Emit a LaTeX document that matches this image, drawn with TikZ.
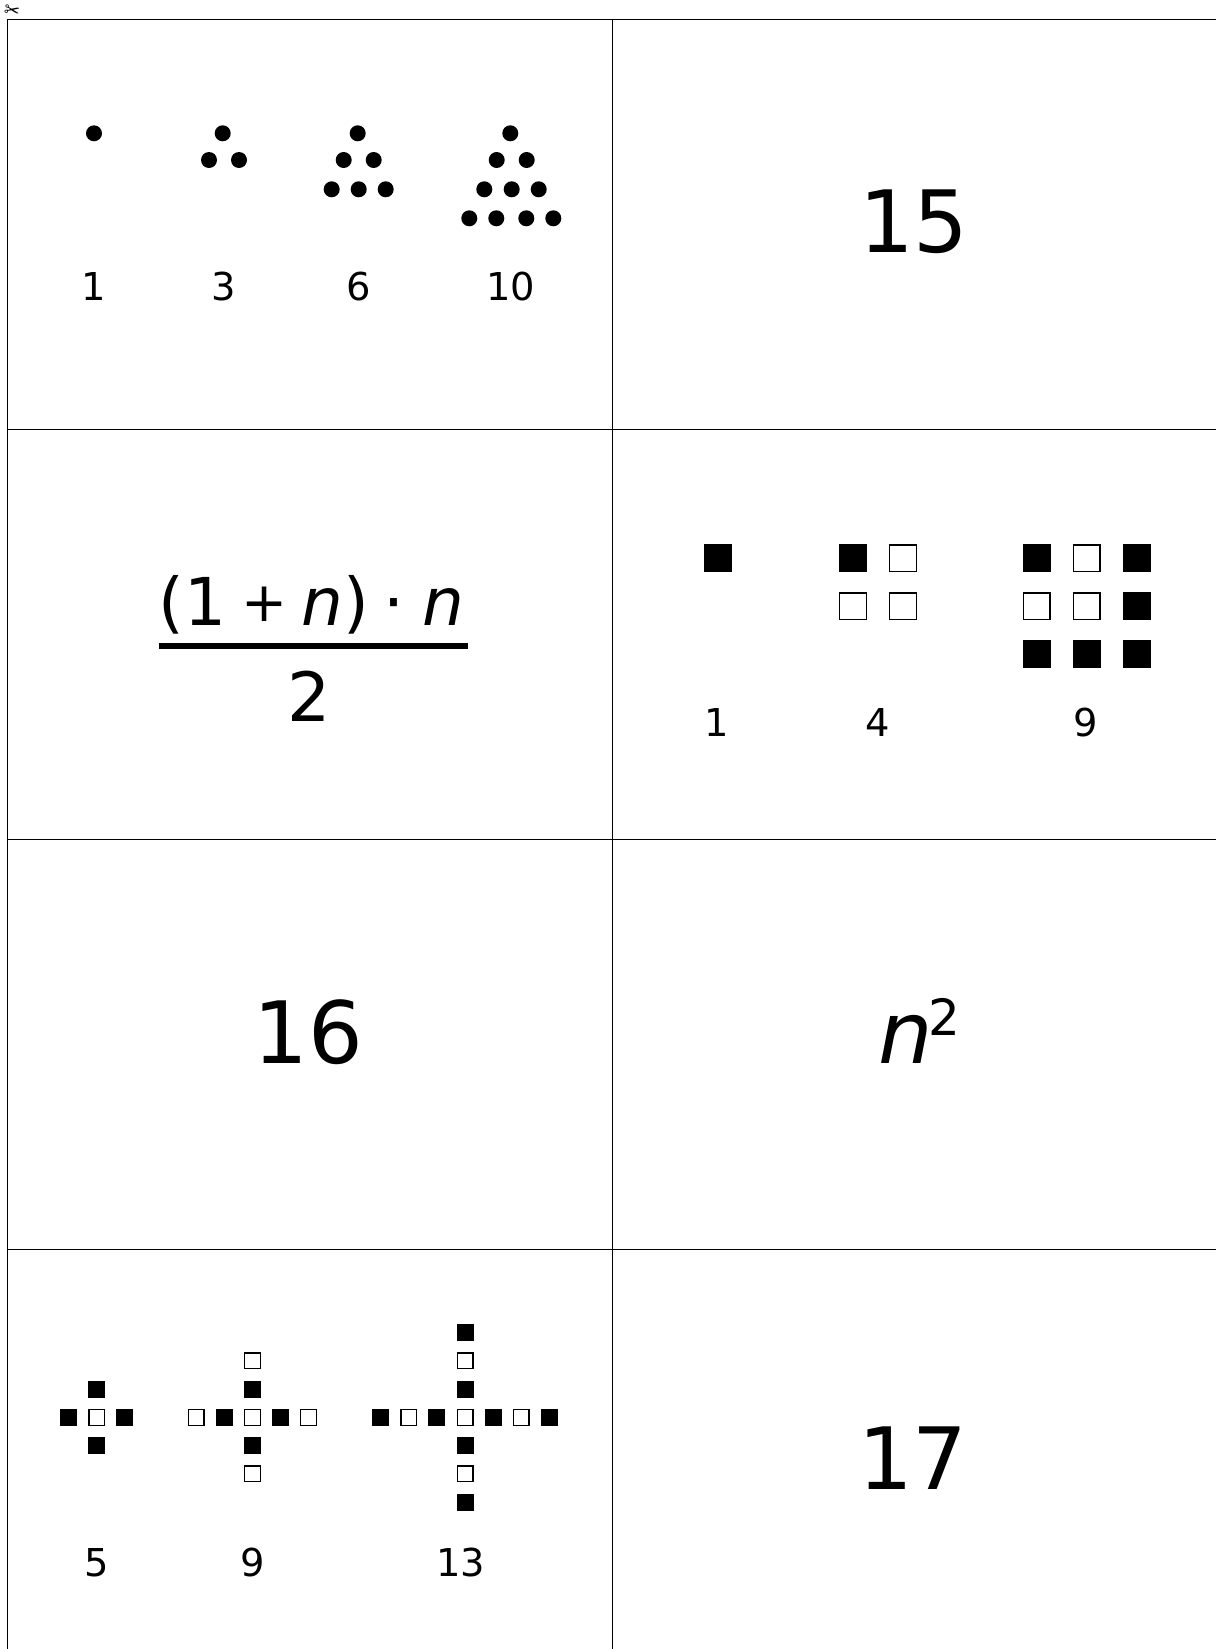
\documentclass[tikz,border=0pt]{standalone}
\usepackage{fontspec}
\setmainfont{DejaVu Sans}
\newcommand\fsqr[3]{\fill (#1-#3/2,#2-#3/2) rectangle ++(#3,#3);}
\newcommand\esqr[3]{\draw[line width=1.3pt] (#1-#3/2+0.65,#2-#3/2+0.65) rectangle ++(#3-1.3,#3-1.3);}
\tikzset{
  grid line/.style={line width=1pt, black},
  lab/.style={anchor=base, inner sep=0pt, font=\fontsize{38.4}{40}\selectfont},
  big/.style={anchor=base, inner sep=0pt, font=\fontsize{86}{90}\selectfont},
  frac/.style={anchor=base, inner sep=0pt, font=\fontsize{66}{70}\selectfont},
}
\begin{document}
\begin{tikzpicture}[x=1pt,y=-1pt]
\useasboundingbox (0,0) rectangle (1216,1649);
% grid
\draw[grid line] (7.5,1649) -- (7.5,19) -- (1216,19);
\draw[grid line] (612.5,19) -- (612.5,1649);
\foreach \yy in {429,839,1249} \draw[grid line] (7.5,\yy) -- (1216,\yy);
% scissors
\node[inner sep=0pt, rotate=-10, font=\fontsize{19}{19}\selectfont] (sc) at (12,11) {✂};
% cell 1: triangular numbers
\foreach \x/\y in {94/133.3,
  222.7/133.3, 209/160, 239/160,
  357.7/133.3, 343.7/160, 373.7/160, 331.7/189.3, 358.7/189.3, 385.7/189.3,
  510.3/133.3, 496.7/160, 526.7/160, 484.3/189.3, 511.7/189.3, 538.7/189.3,
  469.3/218.3, 496.3/218.3, 526.3/218.3, 553.3/218.3}
  \fill (\x,\y) circle[radius=8pt];
\node[lab] (t1) at (94,300) {1};
\node[lab] (t3) at (223.3,300) {3};
\node[lab] (t6) at (358.3,300) {6};
\node[lab] (t10) at (510.7,300) {10};
% cell 2
\node[big] (n15) at (914,252.7) {15};
% cell 3: formula
\node[frac] (num) at (311.5,625) {(1\hspace{0.24em}\raisebox{4pt}{\fontsize{55}{55}\selectfont +}\hspace{0.2em}{\itshape n})\hspace{0.22em}·\hspace{0.28em}{\itshape n}};
\draw[line width=5.7pt] (159.3,646.2) -- (468.3,646.2);
\node[frac, font=\fontsize{68}{70}\selectfont] (den) at (309,721.7) {2};
% cell 4: squares
\fsqr{717.5}{558.3}{28}
\fsqr{852.8}{558.3}{28}\esqr{903}{558.3}{28}
\esqr{852.8}{606.2}{28}\esqr{903}{606.2}{28}
\fsqr{1036.5}{558.3}{28}\esqr{1086.5}{558.3}{28}\fsqr{1136.5}{558.3}{28}
\esqr{1036.5}{606.2}{28}\esqr{1086.5}{606.2}{28}\fsqr{1136.5}{606.2}{28}
\fsqr{1036.5}{653.8}{28}\fsqr{1086.5}{653.8}{28}\fsqr{1136.5}{653.8}{28}
\node[lab] (s1) at (716.7,736.7) {1};
\node[lab] (s4) at (877.7,736.7) {4};
\node[lab] (s9) at (1086,736.7) {9};
% cell 5
\node[big] (n16) at (308.2,1063.5) {16};
% cell 6
\node[anchor=base, inner sep=0pt, font=\fontsize{86}{90}\selectfont] (nsq) at (919,1063.3)
  {{\itshape n}\kern-0.05em\raisebox{28pt}{\fontsize{50}{50}\selectfont 2}};
% cell 7: crosses
\foreach \cx/\m in {96.8/1, 252.4/2, 465/3} {
  \foreach \i in {-\m,...,\m} {
    \ifodd\i
      \fsqr{\cx+\i*28.1}{1417.3}{17}
      \fsqr{\cx}{1417.3+\i*28.3}{17}
    \else
      \esqr{\cx+\i*28.1}{1417.3}{17}
      \esqr{\cx}{1417.3+\i*28.3}{17}
    \fi
  }
}
\node[lab] (c5) at (96.8,1576) {5};
\node[lab] (c9) at (252.4,1576) {9};
\node[lab] (c13) at (460.7,1576) {13};
% cell 8
\node[big] (n17) at (913,1489.5) {17};
\end{tikzpicture}
\end{document}
